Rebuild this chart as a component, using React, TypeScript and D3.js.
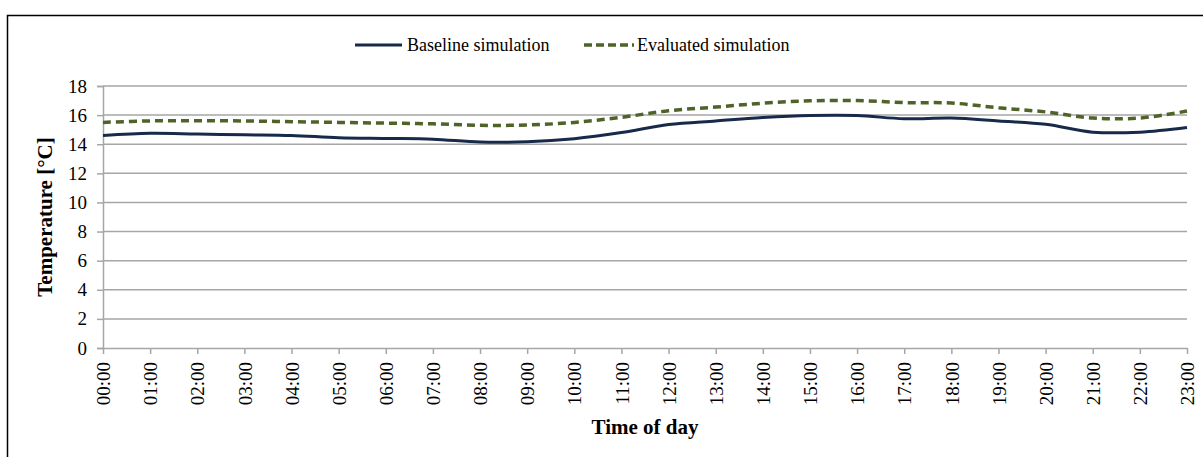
import React, { useEffect, useRef } from "react";
import * as d3 from "d3";

const hours = [
  "00:00", "01:00", "02:00", "03:00", "04:00", "05:00", "06:00", "07:00",
  "08:00", "09:00", "10:00", "11:00", "12:00", "13:00", "14:00", "15:00",
  "16:00", "17:00", "18:00", "19:00", "20:00", "21:00", "22:00", "23:00",
];
const baseline = [
  14.6, 14.75, 14.7, 14.65, 14.6, 14.45, 14.4, 14.35, 14.15, 14.17, 14.38, 14.8,
  15.35, 15.6, 15.83, 15.97, 15.97, 15.75, 15.8, 15.6, 15.37, 14.83, 14.83, 15.15,
];
const evaluated = [
  15.5, 15.6, 15.62, 15.6, 15.55, 15.5, 15.45, 15.4, 15.3, 15.32, 15.5, 15.85,
  16.3, 16.55, 16.82, 16.98, 17.0, 16.86, 16.83, 16.5, 16.22, 15.8, 15.8, 16.28,
];
const yTicks = [0, 2, 4, 6, 8, 10, 12, 14, 16, 18];

const NAVY = "#172a4a";
const OLIVE = "#4f6228";
const GRID = "#a6a6a6";
const FONT = "Liberation Serif, Times New Roman, serif";

const App = () => {
  const ref = useRef<SVGSVGElement | null>(null);

  useEffect(() => {
    if (!ref.current) return;
    const svg = d3.select(ref.current);
    svg.selectAll("*").remove();

    const width = 1203;
    const height = 457;
    const left = 103, right = 1187, top = 86, bottom = 348;

    // outer chart border (right/bottom fall outside the picture)
    svg.append("rect")
      .attr("x", 7.5).attr("y", 15.5)
      .attr("width", width + 20).attr("height", height + 20)
      .attr("fill", "white").attr("stroke", "#000").attr("stroke-width", 1.5);

    const x = d3.scalePoint().domain(hours).range([left, right]);
    const y = d3.scaleLinear().domain([0, 18]).range([bottom, top]);

    const g = svg.append("g");

    // gridlines
    g.selectAll(".grid")
      .data(yTicks.filter((d) => d > 0))
      .enter()
      .append("line")
      .attr("x1", left).attr("x2", right)
      .attr("y1", (d) => y(d)).attr("y2", (d) => y(d))
      .attr("stroke", GRID).attr("stroke-width", 1.5);

    // y axis
    const yAxis = g.append("g")
      .attr("transform", `translate(${left},0)`)
      .call(d3.axisLeft(y).tickValues(yTicks).tickSize(6).tickPadding(10));
    yAxis.attr("font-family", FONT);
    yAxis.select(".domain").attr("stroke", GRID).attr("stroke-width", 1.5);
    yAxis.selectAll(".tick line").attr("stroke", GRID).attr("stroke-width", 1.5);
    yAxis.selectAll("text")
      .attr("fill", "#000").attr("font-family", FONT).attr("font-size", 19);

    // x axis
    const xAxis = g.append("g")
      .attr("transform", `translate(0,${bottom})`)
      .call(d3.axisBottom(x).tickSize(6).tickSizeOuter(0));
    xAxis.attr("font-family", FONT);
    xAxis.select(".domain").attr("stroke", GRID).attr("stroke-width", 1.5);
    xAxis.selectAll(".tick line").attr("stroke", GRID).attr("stroke-width", 1.5);
    xAxis.selectAll("text")
      .attr("fill", "#000").attr("font-family", FONT).attr("font-size", 19)
      .attr("transform", "rotate(-90)")
      .attr("text-anchor", "end")
      .attr("dy", "0.35em")
      .attr("x", -14).attr("y", 0);

    // lines
    const line = d3.line<number>()
      .x((_, i) => x(hours[i])!)
      .y((d) => y(d))
      .curve(d3.curveCatmullRom.alpha(0.5));

    g.append("path")
      .datum(baseline)
      .attr("d", line)
      .attr("fill", "none")
      .attr("stroke", NAVY).attr("stroke-width", 3);

    g.append("path")
      .datum(evaluated)
      .attr("d", line)
      .attr("fill", "none")
      .attr("stroke", OLIVE).attr("stroke-width", 3.5)
      .attr("stroke-dasharray", "8,5");

    // axis titles
    svg.append("text")
      .attr("transform", `translate(52,${(top + bottom) / 2}) rotate(-90)`)
      .attr("text-anchor", "middle")
      .attr("font-family", FONT).attr("font-size", 21).attr("font-weight", "bold")
      .text("Temperature [°C]");

    svg.append("text")
      .attr("x", (left + right) / 2).attr("y", 434)
      .attr("text-anchor", "middle")
      .attr("font-family", FONT).attr("font-size", 21).attr("font-weight", "bold")
      .text("Time of day");

    // legend
    svg.append("line")
      .attr("x1", 355).attr("x2", 402).attr("y1", 45).attr("y2", 45)
      .attr("stroke", NAVY).attr("stroke-width", 3);
    svg.append("text")
      .attr("x", 407).attr("y", 45).attr("dy", "0.35em")
      .attr("font-family", FONT).attr("font-size", 18)
      .text("Baseline simulation");
    svg.append("line")
      .attr("x1", 584).attr("x2", 634).attr("y1", 45).attr("y2", 45)
      .attr("stroke", OLIVE).attr("stroke-width", 3.5)
      .attr("stroke-dasharray", "8,4,8,4,8,4,8,4,2");
    svg.append("text")
      .attr("x", 637).attr("y", 45).attr("dy", "0.35em")
      .attr("font-family", FONT).attr("font-size", 18)
      .text("Evaluated simulation");
  }, []);

  return (
    <svg
      ref={ref}
      width={1203}
      height={457}
      style={{ position: "absolute", left: 0, top: 0, background: "white" }}
    />
  );
};

export default App;
